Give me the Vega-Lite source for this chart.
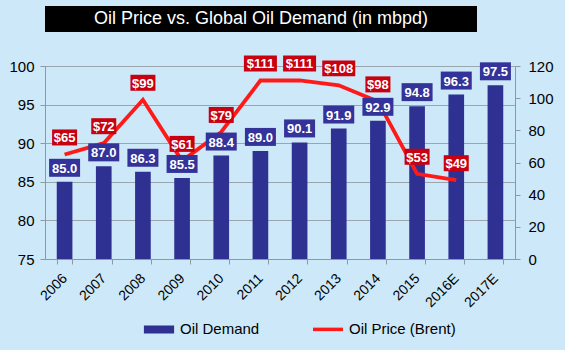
{
  "$schema": "https://vega.github.io/schema/vega-lite/v6.json",
  "background": "#cde8f8",
  "padding": {"left": 8, "top": 6, "right": 20, "bottom": 20},
  "bounds": "flush",
  "spacing": 34,
  "config": {
    "font": "Liberation Sans",
    "view": {"stroke": null},
    "axis": {"labelFont": "Liberation Sans", "labelColor": "#000000", "domainColor": "#8c98a2", "tickColor": "#8c98a2", "gridColor": "#9aa5ae", "title": null, "tickSize": 5},
    "legend": {"labelFont": "Liberation Sans", "labelColor": "#000000"}
  },
  "data": {"values": [
    {"year": "2006", "demand": 85.0, "price": 65, "dlabel": "85.0", "plabel": "$65"},
    {"year": "2007", "demand": 87.0, "price": 72, "dlabel": "87.0", "plabel": "$72"},
    {"year": "2008", "demand": 86.3, "price": 99, "dlabel": "86.3", "plabel": "$99"},
    {"year": "2009", "demand": 85.5, "price": 61, "dlabel": "85.5", "plabel": "$61"},
    {"year": "2010", "demand": 88.4, "price": 79, "dlabel": "88.4", "plabel": "$79"},
    {"year": "2011", "demand": 89.0, "price": 111, "dlabel": "89.0", "plabel": "$111"},
    {"year": "2012", "demand": 90.1, "price": 111, "dlabel": "90.1", "plabel": "$111"},
    {"year": "2013", "demand": 91.9, "price": 108, "dlabel": "91.9", "plabel": "$108"},
    {"year": "2014", "demand": 92.9, "price": 98, "dlabel": "92.9", "plabel": "$98"},
    {"year": "2015", "demand": 94.8, "price": 53, "dlabel": "94.8", "plabel": "$53"},
    {"year": "2016E", "demand": 96.3, "price": 49, "dlabel": "96.3", "plabel": "$49"},
    {"year": "2017E", "demand": 97.5, "price": null, "dlabel": "97.5", "plabel": null}
  ]},
  "vconcat": [
    {
      "width": 432,
      "height": 26,
      "view": {"fill": "#000000", "stroke": null},
      "data": {"values": [{"t": "Oil Price vs. Global Oil Demand (in mbpd)"}]},
      "mark": {"type": "text", "color": "#ffffff", "fontSize": 18, "baseline": "middle", "align": "center", "font": "Liberation Sans"},
      "encoding": {"text": {"field": "t"}}
    },
    {
      "width": 470,
      "height": 193,
      "encoding": {
        "x": {"field": "year", "type": "ordinal", "sort": null,
              "scale": {"paddingInner": 0.6, "paddingOuter": 0.3},
              "axis": {"labelAngle": -45, "labelAlign": "right", "labelBaseline": "middle", "labelFontSize": 14, "tickBand": "extent", "labelPadding": 12}}
      },
      "layer": [
        {
          "mark": {"type": "bar"},
          "encoding": {
            "y": {"field": "demand", "type": "quantitative",
                  "scale": {"domain": [75, 100], "zero": false, "nice": false},
                  "axis": {"orient": "left", "values": [75, 80, 85, 90, 95, 100], "grid": true, "labelFontSize": 15, "labelPadding": 6}},
            "y2": {"datum": 75},
            "color": {"datum": "Oil Demand", "type": "nominal",
              "scale": {"domain": ["Oil Demand", "Oil Price (Brent)"], "range": ["#2e3192", "#ff1a1a"]},
              "legend": {"title": null, "orient": "none", "legendX": 97, "legendY": 306, "direction": "horizontal",
                "symbolSize": 900, "symbolStrokeWidth": 3.5, "labelFontSize": 15, "columnPadding": 46, "labelOffset": 4,
                "encode": {"symbols": {"update": {
                  "shape": {"signal": "datum.value === 'Oil Demand' ? 'M-0.89,-0.15L0.89,-0.15L0.89,0.15L-0.89,0.15Z' : 'M-1,-0.15M-1,0L1,0M1,0.15'"},
                  "fill": {"signal": "datum.value === 'Oil Demand' ? '#2e3192' : 'transparent'"},
                  "stroke": {"scale": "color", "field": "value"},
                  "strokeWidth": {"value": 3.5},
                  "opacity": {"value": 1},
                  "strokeCap": {"value": "butt"}}}}}
            }
          }
        },
        {
          "transform": [{"filter": "isValid(datum.price)"}],
          "encoding": {
            "y": {"field": "price", "type": "quantitative",
                  "scale": {"domain": [0, 120], "nice": false},
                  "axis": {"orient": "right", "values": [0, 20, 40, 60, 80, 100, 120], "grid": false, "labelFontSize": 15, "labelPadding": 8}}
          },
          "layer": [
            {
              "mark": {"type": "line", "strokeWidth": 3.8, "strokeJoin": "miter"},
              "encoding": {"color": {"datum": "Oil Price (Brent)", "type": "nominal"}}
            },
            {
              "mark": {"type": "point", "filled": true, "opacity": 1, "color": "#c80010", "yOffset": -17},
              "encoding": {
                "shape": {"condition": {"test": "datum.price >= 100", "value": "M-1,-0.48L1,-0.48L1,0.48L-1,0.48Z"}, "value": "M-1,-0.64L1,-0.64L1,0.64L-1,0.64Z"},
                "size": {"condition": {"test": "datum.price >= 100", "value": 1089}, "value": 625}
              }
            },
            {
              "mark": {"type": "text", "color": "#ffffff", "fontSize": 13, "fontWeight": "bold", "baseline": "middle", "yOffset": -16},
              "encoding": {"text": {"field": "plabel"}}
            }
          ]
        },
        {
          "encoding": {
            "y": {"field": "demand", "type": "quantitative",
                  "scale": {"domain": [75, 100], "zero": false, "nice": false},
                  "axis": null}
          },
          "layer": [
            {
              "mark": {"type": "point", "filled": true, "opacity": 1, "color": "#333399", "yOffset": -14,
                       "shape": "M-1,-0.58L1,-0.58L1,0.58L-1,0.58Z", "size": 961},
              "encoding": {}
            },
            {
              "mark": {"type": "text", "color": "#ffffff", "fontSize": 13, "fontWeight": "bold", "baseline": "middle", "yOffset": -13},
              "encoding": {"text": {"field": "dlabel"}}
            }
          ]
        }
      ],
      "resolve": {"scale": {"y": "independent"}}
    }
  ]
}
